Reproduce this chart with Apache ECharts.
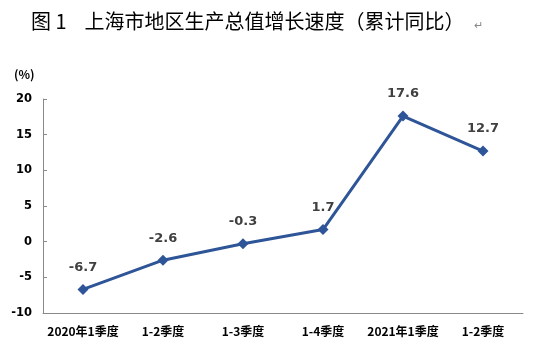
<!DOCTYPE html>
<html><head><meta charset="utf-8">
<script src="https://cdn.jsdelivr.net/npm/echarts@6/dist/echarts.min.js"></script>
<style>html,body{margin:0;padding:0;background:#fff}#c{width:538px;height:358px}</style>
</head><body><div id="c"></div>
<script>
var categories = ['2020年1季度', '1-2季度', '1-3季度', '1-4季度', '2021年1季度', '1-2季度'];
var growth = [-6.7, -2.6, -0.3, 1.7, 17.6, 12.7];
var yTicks = [-10, -5, 0, 5, 10, 15, 20];

var chart = echarts.init(document.getElementById('c'), null, {renderer: 'canvas'});
var axisColor = '#898989';
chart.setOption({
  animation: false,
  backgroundColor: '#fff',
  title: {
    text: '图 1    上海市地区生产总值增长速度（累计同比）{r|↵}',
    left: 26, top: 6,
    textStyle: {
      fontFamily: '"Noto Sans CJK SC", sans-serif', fontSize: 20, fontWeight: 'normal', color: '#000',
      rich: { r: { fontSize: 11, color: '#888', padding: [8, 0, 0, 10] } }
    }
  },
  graphic: [{
    type: 'text', left: 14, top: 68,
    style: { text: '(%)', fontSize: 12, fontWeight: 'bold', fill: '#000', fontFamily: '"Noto Sans CJK SC", sans-serif' }
  }],
  grid: { left: 43, right: 15, top: 99, bottom: 45 },
  xAxis: {
    type: 'category', data: categories, boundaryGap: true,
    axisLine: { onZero: false, lineStyle: { color: axisColor, width: 1 } },
    axisTick: { inside: true, length: 4, lineStyle: { color: axisColor } },
    axisLabel: { margin: 12, fontSize: 12, fontWeight: 'bold', color: '#000', interval: 0,
      fontFamily: '"Noto Sans CJK SC", sans-serif' }
  },
  yAxis: {
    type: 'value', min: yTicks[0], max: yTicks[yTicks.length - 1], interval: 5,
    axisLine: { show: true, lineStyle: { color: axisColor, width: 1 } },
    axisTick: { show: true, inside: true, length: 4, lineStyle: { color: axisColor } },
    splitLine: { show: false },
    axisLabel: { margin: 11, fontSize: 11.5, fontWeight: 'bold', color: '#000', fontFamily: 'Verdana, "DejaVu Sans", sans-serif' }
  },
  series: [{
    type: 'line', data: growth,
    symbol: 'diamond', symbolSize: 11,
    lineStyle: { color: '#2E5597', width: 3 },
    itemStyle: { color: '#2E5597' },
    label: { show: true, position: 'top', distance: 10, fontSize: 13, fontWeight: 'bold', color: '#404040',
      fontFamily: '"DejaVu Sans", sans-serif',
      formatter: function (p) { return p.value.toFixed(1); } }
  }]
});
</script></body></html>
